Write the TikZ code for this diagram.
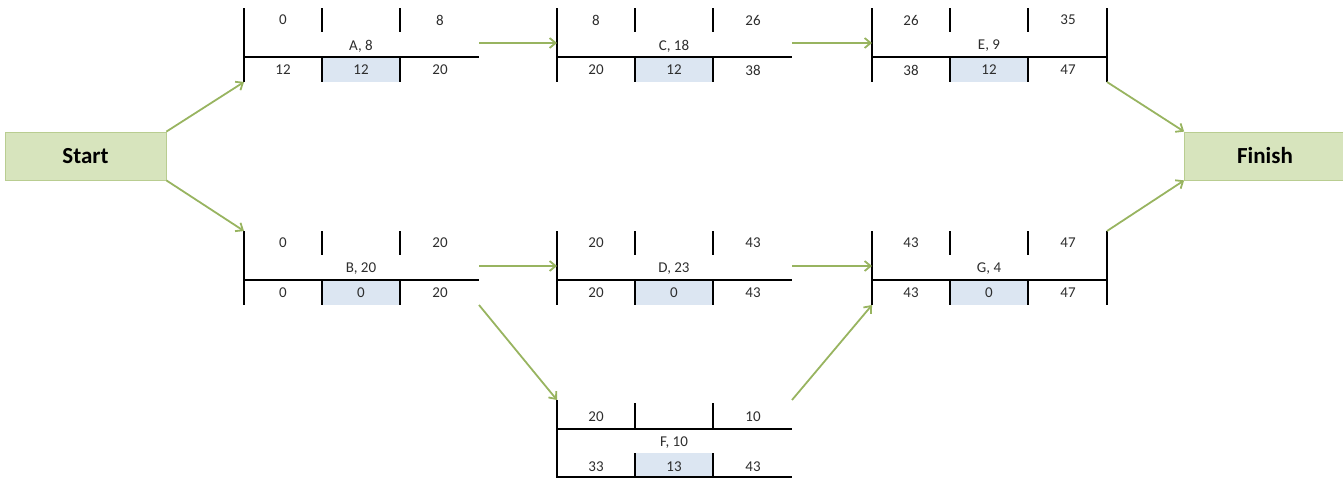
\documentclass[tikz,border=0pt]{standalone}
\usepackage{fontspec}
\setmainfont{Carlito}
\usetikzlibrary{arrows.meta}
\definecolor{arrowgreen}{RGB}{152,180,96}
\definecolor{termfill}{RGB}{215,228,189}
\definecolor{termedge}{RGB}{185,205,145}
\definecolor{slackfill}{RGB}{220,230,242}
\definecolor{txt}{RGB}{45,45,45}
\tikzset{
  boxline/.style={line width=1.5pt, black},
  num/.style={font=\fontsize{15}{15}\selectfont, text=txt, inner sep=0pt, anchor=center},
  slackcell/.style={fill=slackfill},
  term/.style={fill=termfill, draw=termedge, line width=0.8pt, text=black,
    font=\bfseries\fontsize{23}{23}\selectfont, minimum width=161pt, minimum height=48pt, inner sep=0pt},
  conn/.style={arrowgreen, line width=1.8pt, -{Straight Barb[length=6pt,width=10pt]}}
}
% #1 name, #2 x0, #3 y0, #4 ES, #5 EF, #6 label, #7 LS, #8 slack, #9 LF
\newcommand{\actbox}[9]{%
\begin{scope}[shift={(#2,#3)}]
 \fill[slackcell] (78,49) rectangle (156,74);
 \draw[boxline] (0,0) -- (0,74);
 \draw[boxline] (78,0) -- (78,24) (156,0) -- (156,24);
 \draw[boxline] (0,49) -- (235,49);
 \draw[boxline] (78,49) -- (78,74) (156,49) -- (156,74);
 \node[num] (#1-es) at (39,12) {#4};
 \node[num] (#1-ef) at (196,12) {#5};
 \node[num] (#1-lab) at (117,38) {#6};
 \node[num] (#1-ls) at (39,62) {#7};
 \node[num] (#1-sl) at (117,62) {#8};
 \node[num] (#1-lf) at (196,62) {#9};
 \coordinate (#1-w) at (0,35);
 \coordinate (#1-e) at (235,35);
 \coordinate (#1-nw) at (0,0);
 \coordinate (#1-sw) at (0,74);
 \coordinate (#1-ne) at (235,0);
 \coordinate (#1-se) at (235,74);
\end{scope}}
% F-type box: line between top numbers and label
\newcommand{\actboxb}[9]{%
\begin{scope}[shift={(#2,#3)}]
 \fill[slackcell] (78,53) rectangle (156,78);
 \draw[boxline] (0,0) -- (0,78);
 \draw[boxline] (78,3) -- (78,29) (156,3) -- (156,29);
 \draw[boxline] (0,29) -- (235,29);
 \draw[boxline] (78,53) -- (78,78) (156,53) -- (156,78);
 \draw[boxline] (0,77) -- (235,77);
 \node[num] (#1-es) at (39,17) {#4};
 \node[num] (#1-ef) at (196,17) {#5};
 \node[num] (#1-lab) at (117,43) {#6};
 \node[num] (#1-ls) at (39,67) {#7};
 \node[num] (#1-sl) at (117,67) {#8};
 \node[num] (#1-lf) at (196,67) {#9};
 \coordinate (#1-nw) at (0,0);
 \coordinate (#1-ne) at (235,0);
\end{scope}}
\begin{document}
\begin{tikzpicture}[x=1pt, y=-1pt]
\useasboundingbox (0,0) rectangle (1343,479);
\node[term] (start) at (85.5,156) {Start};
\node[term] (finish) at (1265,156) {Finish};
\actbox{A}{244}{8}{0}{8}{A, 8}{12}{12}{20}
\actbox{C}{557}{8}{8}{26}{C, 18}{20}{12}{38}
\actbox{E}{872}{8}{26}{35}{E, 9}{38}{12}{47}
\actbox{B}{244}{231}{0}{20}{B, 20}{0}{0}{20}
\actbox{D}{557}{231}{20}{43}{D, 23}{20}{0}{43}
\actbox{G}{872}{231}{43}{47}{G, 4}{43}{0}{47}
\actboxb{F}{557}{400}{20}{10}{F, 10}{33}{13}{43}
\draw[boxline] (E-ne) -- (E-se);
\draw[boxline] (G-ne) -- (G-se);
\draw[conn] (start.north east) -- (A-sw);
\draw[conn] (start.south east) -- (B-nw);
\draw[conn] (A-e) -- (C-w);
\draw[conn] (C-e) -- (E-w);
\draw[conn] (B-e) -- (D-w);
\draw[conn] (D-e) -- (G-w);
\draw[conn] (B-se) -- (F-nw);
\draw[conn] (F-ne) -- (G-sw);
\draw[conn] (E-se) -- (finish.north west);
\draw[conn] (G-ne) -- (finish.south west);
\end{tikzpicture}
\end{document}
